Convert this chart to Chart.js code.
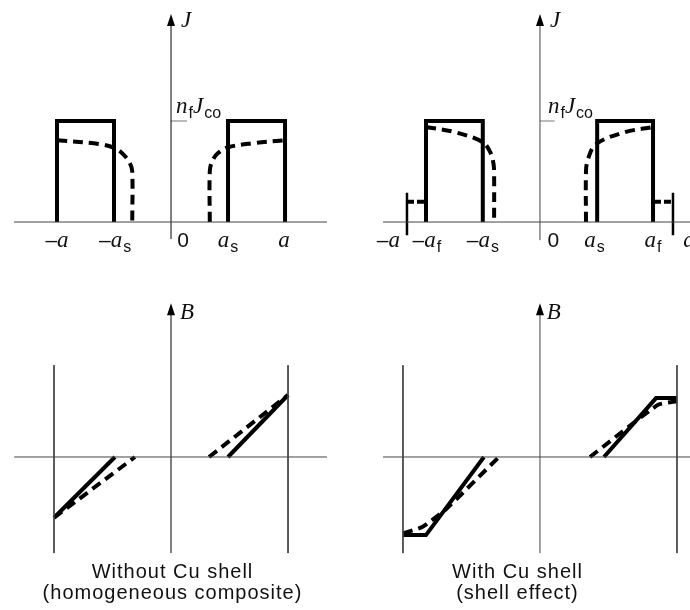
<!DOCTYPE html>
<html>
<head>
<meta charset="utf-8">
<script src="https://cdn.jsdelivr.net/npm/chart.js@4/dist/chart.umd.min.js"></script>
<style>
  body { margin: 0; background: #fff; }
  #wrap { position: relative; width: 690px; height: 610px; overflow: hidden; }
  canvas { position: absolute; }
  .cap { position: absolute; width: 345px; text-align: center; font: 20px "Liberation Sans", Arial, sans-serif; letter-spacing: 1px; line-height: 21px; color: #111; }
</style>
</head>
<body>
<div id="wrap">
  <canvas id="tl" width="345" height="280" style="left:0;top:0"></canvas>
  <canvas id="tr" width="345" height="280" style="left:345px;top:0"></canvas>
  <canvas id="bl" width="345" height="330" style="left:0;top:280px"></canvas>
  <canvas id="br" width="345" height="330" style="left:345px;top:280px"></canvas>
  <div class="cap" style="left:0;top:561px">Without Cu shell<br>(homogeneous composite)</div>
  <div class="cap" style="left:345px;top:561px">With Cu shell<br>(shell effect)</div>
</div>
<script>
// x in units of a, J in units of n_f J_co, B in arbitrary units

// top left: J profile, no shell
const tlRectLeft = [[-1, 0], [-1, 1], [-0.5, 1], [-0.5, 0]];
const tlRectRight = [[0.5, 0], [0.5, 1], [1, 1], [1, 0]];
const tlDashLeft = [[-1, 0.81], [-0.62, 0.77], [-0.49, 0.73], [-0.41, 0.66], [-0.36, 0.58], [-0.34, 0.5], [-0.34, 0]];
const tlDashRight = [[0.34, 0], [0.34, 0.5], [0.36, 0.6], [0.41, 0.68], [0.5, 0.74], [0.72, 0.78], [1, 0.81]];
const tlTickValues = [-1, -0.49, 0.105, 0.5, 0.99];
const tlTickLabels = ['–a', '–a_s', '0', 'a_s', 'a'];

// top right: J profile, with Cu shell
const trRectLeft = [[-0.857, 0], [-0.857, 1], [-0.43, 1], [-0.43, 0]];
const trRectRight = [[0.43, 0], [0.43, 1], [0.85, 1], [0.85, 0]];
const trEdgeLeft = [[-1, 0.29], [-1, -0.13]];
const trEdgeRight = [[1, 0.29], [1, -0.13]];
const trShellLeft = [[-1, 0.2], [-0.857, 0.2]];
const trShellRight = [[0.857, 0.2], [1, 0.2]];
const trDashLeft = [[-0.857, 0.94], [-0.64, 0.89], [-0.43, 0.79], [-0.37, 0.68], [-0.35, 0.58], [-0.345, 0.5], [-0.345, 0]];
const trDashRight = [[0.346, 0], [0.346, 0.5], [0.36, 0.62], [0.42, 0.77], [0.64, 0.89], [0.85, 0.94]];
const trTickValues = [-1.14, -0.85, -0.43, 0.1, 0.41, 0.85, 1.12];
const trTickLabels = ['–a', '–a_f', '–a_s', '0', 'a_s', 'a_f', 'a'];

// bottom left: B profile, no shell
const blSolidLeft = [[-1, -0.98], [-0.479, 0]];
const blDashLeft = [[-1, -0.98], [-0.308, 0]];
const blSolidRight = [[0.487, 0], [1, 1]];
const blDashRight = [[0.325, 0], [1, 1]];

// bottom right: B profile, with Cu shell
const brSolidLeft = [[-1, -1.26], [-0.832, -1.26], [-0.409, 0]];
const brDashLeft = [[-1, -1.23], [-0.86, -1.13], [-0.69, -0.85], [-0.3, 0]];
const brSolidRight = [[0.467, 0], [0.847, 0.95], [1, 0.95]];
const brDashRight = [[0.365, 0], [0.86, 0.84], [1, 0.9]];

const ITAL = 'italic 23px "Liberation Serif", "DejaVu Serif", serif';
const SANS = '21px "Liberation Sans", Arial, sans-serif';
const SUB = '16px "Liberation Sans", Arial, sans-serif';

function pts(arr) { return arr.map(p => ({ x: p[0], y: p[1] })); }

function solid(arr, w = 4) {
    return { data: pts(arr), showLine: true, borderColor: '#000', borderWidth: w, pointRadius: 0, borderJoinStyle: 'miter', tension: 0 };
}
function dashed(arr, t = 0.35, dash = [10, 6]) {
    return { data: pts(arr), showLine: true, borderColor: '#000', borderWidth: 4, borderDash: dash, pointRadius: 0, tension: t };
}
function thin(arr, col = '#333') {
    return { data: pts(arr), showLine: true, borderColor: col, borderWidth: 1, pointRadius: 0, tension: 0 };
}

function drawMath(ctx, str, x, y, align) {
    const runs = [];
    let i = 0;
    while (i < str.length) {
        const c = str[i];
        if (c === '_') {
            let j = i + 1, s = '';
            while (j < str.length && /[a-z]/.test(str[j])) s += str[j++];
            runs.push({ t: s, f: SUB, dy: 5, pad: 1 });
            i = j;
        } else if (/[A-Za-z]/.test(c)) {
            runs.push({ t: c, f: ITAL, dy: 0, pad: 0 });
            i++;
        } else {
            runs.push({ t: c, f: SANS, dy: 0, pad: 0 });
            i++;
        }
    }
    let total = 0;
    runs.forEach(r => { ctx.font = r.f; r.w = ctx.measureText(r.t).width + r.pad; total += r.w; });
    let cx = align === 'center' ? x - total / 2 : x;
    ctx.fillStyle = '#111';
    ctx.textBaseline = 'alphabetic';
    ctx.textAlign = 'left';
    runs.forEach(r => { ctx.font = r.f; ctx.fillText(r.t, cx + r.pad, y + r.dy); cx += r.w; });
}

const decorPlugin = {
    id: 'decor',
    afterDatasetsDraw(chart, args, opts) {
        const ctx = chart.ctx, xs = chart.scales.x, ys = chart.scales.y;
        ctx.save();
        // arrow head on the vertical axis
        const ax = xs.getPixelForValue(0), ay = ys.getPixelForValue(opts.arrowTip);
        ctx.fillStyle = '#000';
        ctx.beginPath();
        ctx.moveTo(ax, ay);
        ctx.lineTo(ax - 4, ay + 12);
        ctx.lineTo(ax + 4, ay + 12);
        ctx.closePath();
        ctx.fill();
        (opts.labels || []).forEach(l => {
            drawMath(ctx, l.text, xs.getPixelForValue(l.x), ys.getPixelForValue(l.y), l.align || 'center');
        });
        ctx.restore();
    }
};

function makePanel(id, xr, yr, datasets, decor) {
    return new Chart(document.getElementById(id), {
        type: 'scatter',
        data: { datasets },
        options: {
            responsive: false,
            animation: false,
            events: [],
            layout: { padding: 0 },
            plugins: { legend: { display: false }, tooltip: { enabled: false }, decor },
            scales: {
                x: { type: 'linear', min: xr[0], max: xr[1], display: false },
                y: { type: 'linear', min: yr[0], max: yr[1], display: false }
            }
        },
        plugins: [decorPlugin]
    });
}

// top left
makePanel('tl', [-1.5, 1.526], [-0.574, 2.198], [
    thin([[-1.377, 0], [1.368, 0]], '#444'),
    thin([[0, -0.168], [0, 2.0]], '#000'),
    thin([[0, 1], [0.14, 1]], '#777'),
    solid(tlRectLeft), solid(tlRectRight),
    dashed(tlDashLeft), dashed(tlDashRight)
], {
    arrowTip: 2.06,
    labels: tlTickValues.map((v, i) => ({ x: v, y: -0.248, text: tlTickLabels[i] })).concat([
        { x: 0.088, y: 1.93, text: 'J', align: 'left' },
        { x: 0.044, y: 1.08, text: 'n_fJ_co', align: 'left' }
    ])
});

// top right
makePanel('tr', [-1.466, 1.128], [-0.574, 2.198], [
    thin([[-1.18, 0], [1.2, 0]], '#444'),
    thin([[0, -0.18], [0, 2.0]], '#444'),
    thin([[0, 1], [0.11, 1]], '#777'),
    solid(trEdgeLeft, 2.5), solid(trEdgeRight, 2.5),
    solid(trRectLeft), solid(trRectRight),
    dashed(trShellLeft, 0, [7, 3]), dashed(trShellRight, 0, [7, 3]),
    dashed(trDashLeft), dashed(trDashRight)
], {
    arrowTip: 2.06,
    labels: trTickValues.map((v, i) => ({ x: v, y: -0.248, text: trTickLabels[i] })).concat([
        { x: 0.075, y: 1.93, text: 'J', align: 'left' },
        { x: 0.06, y: 1.08, text: 'n_fJ_co', align: 'left' }
    ])
});

// bottom left
makePanel('bl', [-1.4615, 1.487], [-2.468, 2.855], [
    thin([[-1.34, 0], [1.333, 0]], '#444'),
    thin([[0, -1.55], [0, 2.4]], '#000'),
    thin([[-1, 1.48], [-1, -1.55]], '#444'),
    thin([[1, 1.48], [1, -1.55]], '#444'),
    solid(blSolidLeft), solid(blSolidRight),
    dashed(blDashLeft, 0), dashed(blDashRight, 0)
], {
    arrowTip: 2.48,
    labels: [{ x: 0.077, y: 2.23, text: 'B', align: 'left' }]
});

// bottom right
makePanel('br', [-1.423, 1.095], [-2.468, 2.855], [
    thin([[-1.146, 0], [1.2, 0]], '#444'),
    thin([[0, -1.55], [0, 2.4]], '#444'),
    thin([[-1, 1.48], [-1, -1.55]], '#444'),
    thin([[1, 1.48], [1, -1.55]], '#444'),
    solid(brSolidLeft), solid(brSolidRight),
    dashed(brDashLeft, 0.15), dashed(brDashRight, 0.15)
], {
    arrowTip: 2.48,
    labels: [{ x: 0.05, y: 2.23, text: 'B', align: 'left' }]
});
</script>
</body>
</html>
